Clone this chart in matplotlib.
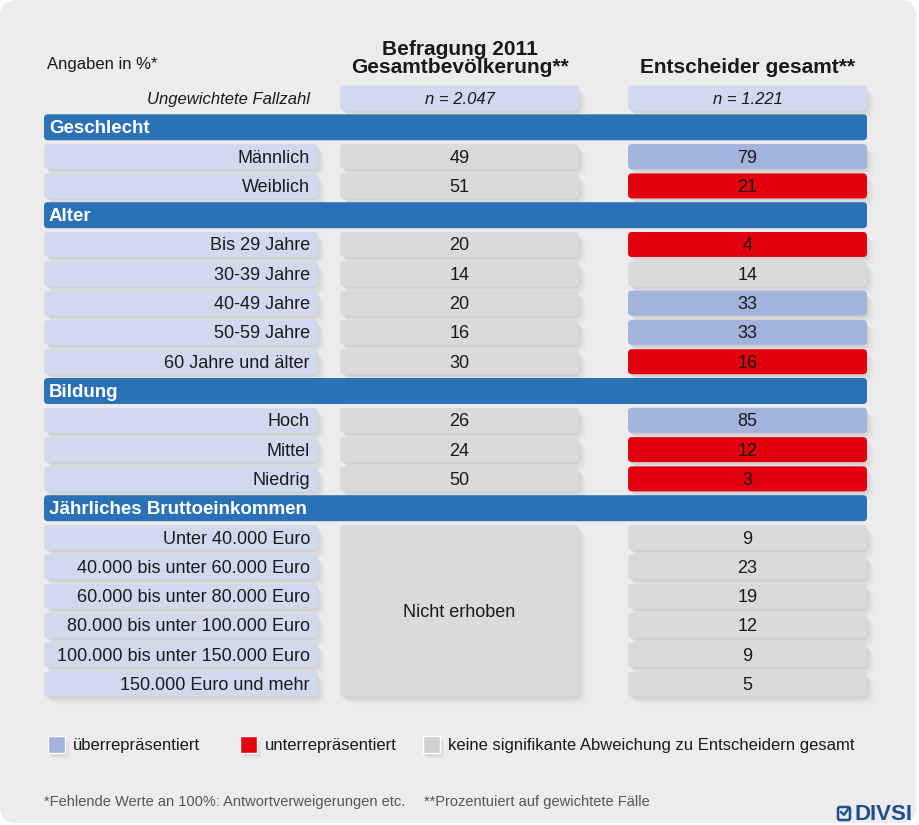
import matplotlib
matplotlib.use("Agg")
import matplotlib.pyplot as plt
from matplotlib.patches import FancyBboxPatch, Rectangle

plt.rcParams['font.family'] = ['Liberation Sans', 'DejaVu Sans']

# --- data ---
col_titles = ["Befragung 2011\nGesamtbevölkerung**", "Entscheider gesamt**"]
sample_sizes = ["n = 2.047", "n = 1.221"]
sections = ["Geschlecht", "Alter", "Bildung", "Jährliches Bruttoeinkommen"]
row_section = [0, 0, 1, 1, 1, 1, 1, 2, 2, 2, 3, 3, 3, 3, 3, 3]
row_labels = ["Männlich", "Weiblich",
              "Bis 29 Jahre", "30-39 Jahre", "40-49 Jahre", "50-59 Jahre", "60 Jahre und älter",
              "Hoch", "Mittel", "Niedrig",
              "Unter 40.000 Euro", "40.000 bis unter 60.000 Euro", "60.000 bis unter 80.000 Euro",
              "80.000 bis unter 100.000 Euro", "100.000 bis unter 150.000 Euro", "150.000 Euro und mehr"]
pop_values = [49, 51, 20, 14, 20, 16, 30, 26, 24, 50, None, None, None, None, None, None]
decider_values = [79, 21, 4, 14, 33, 33, 16, 85, 12, 3, 9, 23, 19, 12, 9, 5]
# o = überrepräsentiert, u = unterrepräsentiert, n = keine signifikante Abweichung
decider_status = ["o", "u", "u", "n", "o", "o", "u", "o", "u", "u", "n", "n", "n", "n", "n", "n"]
legend_labels = ["überrepräsentiert", "unterrepräsentiert",
                 "keine signifikante Abweichung zu Entscheidern gesamt"]

# --- styles ---
bg = "#ececec"
lavender = "#d1d9ee"
grey = "#dadada"
status_colors = {"o": "#a2b4dc", "u": "#e2000f", "n": "#dadada"}
header_blue = "#2a72b5"
txt = "#1a1a1a"

W, H = 920, 825
fig = plt.figure(figsize=(W / 100, H / 100), dpi=100)
ax = fig.add_axes([0, 0, 1, 1])
ax.set_xlim(0, W)
ax.set_ylim(H, 0)
ax.axis("off")

dy_txt = 1.5  # small downward nudge so text sits centred like the reference


def box(x0, y0, w, h, color, r=4, shadow=True, z=2):
    if shadow:
        for dx, dy, a in [(1, 2, 0.04), (3, 4, 0.035), (5, 6, 0.025), (7, 8, 0.015)]:
            ax.add_patch(FancyBboxPatch((x0 + dx, y0 + dy), w, h,
                                        boxstyle=f"round,pad=0,rounding_size={r + 2}",
                                        fc="black", ec="none", alpha=a, zorder=z - 0.5))
    ax.add_patch(FancyBboxPatch((x0, y0), w, h, boxstyle=f"round,pad=0,rounding_size={r}",
                                fc=color, ec="none", zorder=z))


# panel
ax.add_patch(FancyBboxPatch((0, 0), 916, 823, boxstyle="round,pad=0,rounding_size=16",
                            fc=bg, ec="none", zorder=0))

lab_x0, lab_x1 = 44, 318
c1_x0, c1_x1 = 340, 579
c2_x0, c2_x1 = 628, 867
c1_mid = (c1_x0 + c1_x1) / 2
c2_mid = (c2_x0 + c2_x1) / 2
y_first = 98
pitch = 29.3
bh = 25

# headings
ax.text(47, 63 + dy_txt, "Angaben in %*", fontsize=12, color=txt, va="center", ha="left")
ax.text(c1_mid, 57 + dy_txt, col_titles[0], fontsize=15, fontweight="bold", color=txt,
        ha="center", va="center", linespacing=0.95)
ax.text(c2_mid, 66 + dy_txt, col_titles[1], fontsize=15, fontweight="bold", color=txt,
        ha="center", va="center")

# sample size row
yc = y_first
ax.text(310, yc + dy_txt, "Ungewichtete Fallzahl", fontsize=12, style="italic", color=txt,
        ha="right", va="center")
for (x0, x1), s in zip([(c1_x0, c1_x1), (c2_x0, c2_x1)], sample_sizes):
    box(x0, yc - bh / 2, x1 - x0, bh, lavender)
    ax.text((x0 + x1) / 2, yc + dy_txt, s, fontsize=12, style="italic", color=txt,
            ha="center", va="center", zorder=3)

slot = 1
income_rows = []
for si, sec in enumerate(sections):
    yc = y_first + pitch * slot
    ax.add_patch(FancyBboxPatch((lab_x0, yc - 13), c2_x1 - lab_x0, 26,
                                boxstyle="round,pad=0,rounding_size=4",
                                fc=header_blue, ec="none", zorder=2))
    ax.text(lab_x0 + 5, yc + dy_txt, sec, fontsize=13.5, fontweight="bold", color="white",
            ha="left", va="center", zorder=3)
    slot += 1
    for ri, label in enumerate(row_labels):
        if row_section[ri] != si:
            continue
        yc = y_first + pitch * slot
        box(lab_x0, yc - bh / 2, lab_x1 - lab_x0, bh, lavender)
        ax.text(lab_x1 - 8, yc + dy_txt, label, fontsize=13, color=txt,
                ha="right", va="center", zorder=3)
        if pop_values[ri] is not None:
            box(c1_x0, yc - bh / 2, c1_x1 - c1_x0, bh, grey)
            ax.text(c1_mid, yc + dy_txt, str(pop_values[ri]), fontsize=13, color=txt,
                    ha="center", va="center", zorder=3)
        else:
            income_rows.append(yc)
        box(c2_x0, yc - bh / 2, c2_x1 - c2_x0, bh, status_colors[decider_status[ri]])
        ax.text(c2_mid, yc + dy_txt, str(decider_values[ri]), fontsize=13, color=txt,
                ha="center", va="center", zorder=3)
        slot += 1

# merged "Nicht erhoben" cell
if income_rows:
    top = income_rows[0] - bh / 2
    bot = income_rows[-1] + bh / 2
    box(c1_x0, top, c1_x1 - c1_x0, bot - top, grey)
    ax.text(c1_mid, (top + bot) / 2 + dy_txt, "Nicht erhoben", fontsize=13, color=txt,
            ha="center", va="center", zorder=3)

# legend
leg_y = 744
leg_x = [48, 240, 423]
for x, key, lab in zip(leg_x, ["o", "u", "n"], legend_labels):
    for ddx, ddy, a in [(2, 3, 0.06), (4, 5, 0.04)]:
        ax.add_patch(Rectangle((x + ddx, leg_y - 8.5 + ddy), 17, 17, fc="black", alpha=a,
                               ec="none", zorder=1))
    ax.add_patch(Rectangle((x, leg_y - 8.5), 17, 17,
                           fc=status_colors[key] if key != "n" else "#cfcfcf",
                           ec="white", lw=1, zorder=2))
    ax.text(x + 25, leg_y + dy_txt, lab, fontsize=12, color=txt, ha="left", va="center")

# footnotes
ax.text(44, 802, "*Fehlende Werte an 100%: Antwortverweigerungen etc.", fontsize=10.5,
        color="#555555", ha="left", va="center")
ax.text(424, 802, "**Prozentuiert auf gewichtete Fälle", fontsize=10.5,
        color="#555555", ha="left", va="center")

# logo
logo_blue = "#1d4f8f"
ax.add_patch(FancyBboxPatch((838, 807), 12, 13, boxstyle="round,pad=0,rounding_size=2",
                            fc="none", ec=logo_blue, lw=1.8, zorder=3))
ax.plot([841, 844, 848], [812, 815, 809], color=logo_blue, lw=1.6, zorder=4)
ax.text(855, 815, "DIVSI", fontsize=16, fontweight="bold", color=logo_blue,
        ha="left", va="center")

fig.savefig("out.png", dpi=100, facecolor="white")
